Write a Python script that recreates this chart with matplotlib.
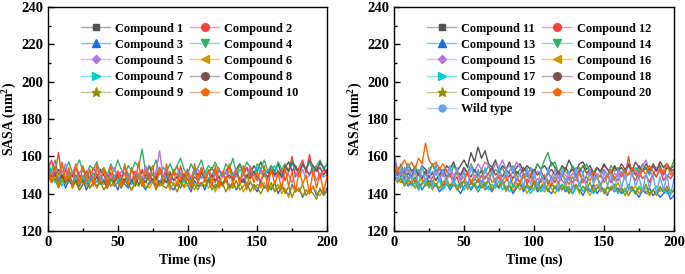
import numpy as np
import matplotlib
matplotlib.use('Agg')
import matplotlib.pyplot as plt
from matplotlib.lines import Line2D
from matplotlib.colors import to_rgb
from matplotlib.ticker import MultipleLocator

plt.rcParams['font.family'] = 'Liberation Serif'
plt.rcParams['font.weight'] = 'bold'
plt.rcParams['mathtext.fontset'] = 'custom'
plt.rcParams['mathtext.bf'] = 'Liberation Serif:bold'

c1 = [155,152,149,153,150,147,152,149,154,150,148,152,147,151,149,153,150,146,151,148,152,149,151,147,153,150,148,152,149,155,150,148,153,149,151,147,152,150,154,149,151,148,153,150,152,148,151,154,150,153,149,152,155,150,153,156,151,154,150,155,152,157,153,151,155,152,156,150,154,157,152,155,151,156,153,150,155,152,154,150,153]
c2 = [153,158,150,162,148,153,147,151,155,149,146,152,148,154,150,147,153,149,151,146,152,148,155,150,147,152,149,153,148,151,146,150,154,149,152,147,151,155,148,150,153,147,151,149,154,148,152,150,146,153,149,151,155,148,152,147,150,154,149,151,147,153,150,148,155,151,149,153,147,152,160,149,154,158,151,161,150,155,148,153,150]
c3 = [150,147,151,145,149,143,147,145,150,144,148,142,146,149,143,147,145,150,144,146,142,148,145,143,147,144,149,145,142,146,148,143,147,145,150,144,142,146,143,148,145,141,147,144,146,142,148,145,143,147,144,149,143,146,142,145,148,143,146,144,141,147,143,145,142,146,140,144,142,139,145,141,143,138,142,140,144,139,142,140,143]
c4 = [156,152,158,150,155,153,157,151,154,158,152,150,155,153,157,151,154,150,156,152,158,153,150,155,152,157,154,164,151,155,153,158,150,154,152,156,151,155,159,153,150,156,152,154,158,151,155,153,157,152,150,156,153,159,151,155,152,157,154,150,156,153,158,152,155,151,157,153,156,152,158,154,151,156,153,157,152,155,158,153,156]
c5 = [154,150,153,148,151,156,149,152,147,151,154,149,152,148,153,150,147,151,149,154,148,152,150,146,153,149,151,148,155,150,147,152,163,149,153,148,151,150,154,147,152,149,151,153,148,150,152,147,151,154,149,152,148,150,153,147,151,149,155,150,148,152,150,147,153,149,151,148,152,150,146,151,149,153,148,150,152,147,151,149,150]
c6 = [151,147,149,144,148,146,150,143,147,145,149,144,146,148,143,147,145,149,144,146,148,143,147,145,142,146,149,144,147,143,146,148,144,145,147,142,146,144,148,143,145,147,142,146,144,148,143,145,141,146,144,147,142,145,143,146,141,144,147,142,145,143,146,141,144,142,145,140,143,138,144,141,143,139,142,140,144,141,139,143,141]
c7 = [147,150,146,149,144,148,151,146,149,147,150,145,148,151,146,149,147,143,148,150,146,149,147,151,145,148,150,146,149,147,151,148,146,150,148,152,147,149,151,146,150,148,152,147,149,151,148,150,153,149,151,148,152,150,149,153,151,148,152,150,154,151,149,153,151,155,152,150,154,152,156,153,151,155,153,157,154,152,156,154,155]
c8 = [152,149,151,147,150,146,148,144,147,142,145,148,143,146,149,145,147,143,148,146,150,145,148,144,147,149,145,148,146,150,147,149,145,148,146,151,147,149,146,150,148,145,149,147,151,148,146,150,147,149,145,148,150,147,151,148,146,150,148,152,149,147,151,149,153,150,152,149,155,152,157,154,151,156,153,158,155,152,157,154,151]
c9 = [150,146,148,143,147,145,149,144,146,142,145,148,143,146,144,147,142,145,148,144,146,143,147,145,142,146,144,148,143,145,147,142,146,144,143,147,145,141,146,144,148,143,145,142,146,144,147,142,145,143,146,141,145,143,147,142,144,146,141,145,143,140,144,142,146,141,143,145,140,144,138,143,141,145,139,142,140,137,143,139,141]
c10 = [156,146,155,144,157,147,154,143,156,145,155,147,153,144,156,146,154,143,155,147,152,144,156,145,154,146,157,144,153,147,155,143,154,146,156,145,153,144,155,147,152,143,156,145,154,146,153,144,155,143,152,146,156,144,153,145,155,142,154,146,152,144,155,143,153,145,151,142,154,144,152,141,153,145,150,140,152,143,151,141,149]

c11 = [157,153,155,151,156,152,154,150,155,153,151,156,152,154,150,155,153,157,152,155,158,154,162,157,165,159,163,156,154,158,152,155,153,157,151,154,156,152,155,153,151,156,153,155,152,157,154,151,155,153,158,154,152,156,157,153,155,151,154,152,156,153,150,155,152,154,151,156,153,150,155,152,154,151,156,153,155,150,154,152,153]
c12 = [158,152,149,153,147,150,146,151,148,152,145,149,147,151,144,148,150,146,149,143,147,151,145,148,146,150,144,148,151,146,149,145,147,150,144,148,146,151,145,149,147,143,148,150,145,149,146,151,147,145,149,146,150,144,148,146,151,147,149,145,148,150,146,149,147,151,148,160,150,147,152,148,150,146,151,149,153,147,150,148,151]
c13 = [151,148,146,149,144,147,143,146,142,145,147,143,145,141,144,146,142,145,143,140,144,146,142,145,143,147,142,144,141,145,143,146,142,144,140,143,145,141,144,142,146,141,143,145,142,140,144,142,145,141,143,140,144,142,139,143,141,145,140,143,142,139,144,141,143,140,142,139,143,141,138,142,140,143,139,141,138,140,142,137,139]
c14 = [154,151,156,150,153,149,155,151,154,150,152,156,150,154,151,153,149,155,152,150,154,151,156,152,149,153,151,155,150,153,151,154,149,152,155,150,153,151,149,154,152,156,153,158,162,155,157,151,154,152,150,155,152,154,151,156,152,149,154,151,153,150,155,152,154,150,153,155,151,154,152,156,153,150,155,152,157,154,156,153,158]
c15 = [162,153,150,154,148,152,150,153,149,151,148,152,150,153,149,151,154,150,152,148,153,151,154,152,156,153,157,155,152,156,154,158,153,155,152,157,154,151,150,153,148,152,150,147,151,149,153,148,152,150,147,151,149,153,146,150,152,148,151,149,153,150,147,151,149,152,148,151,150,153,149,155,158,152,150,154,151,153,149,152,150]
c16 = [152,148,146,149,145,147,143,146,148,144,146,142,145,147,143,146,144,148,143,145,147,142,146,144,141,145,143,147,142,145,144,146,141,144,143,146,142,145,140,144,142,146,143,141,145,143,140,144,142,146,141,143,145,140,144,142,139,143,145,141,143,140,144,142,146,141,143,139,142,144,140,143,141,139,142,140,144,141,143,140,142]
c17 = [150,147,149,145,148,144,146,142,145,147,143,146,144,148,142,145,143,147,144,146,142,145,143,146,141,144,146,142,145,143,147,142,144,141,145,143,146,142,144,140,143,145,141,144,142,146,143,141,145,142,144,140,143,145,141,144,142,140,143,145,141,143,142,144,140,143,141,145,142,140,144,142,143,140,142,144,141,143,140,142,141]
c18 = [153,150,152,148,151,149,153,150,148,152,149,151,147,150,153,149,151,148,152,150,154,151,149,153,150,152,148,151,154,150,152,149,153,151,148,152,150,154,151,149,153,150,152,148,151,153,150,152,149,154,151,153,150,152,155,151,153,150,154,152,155,153,151,154,152,156,153,155,152,157,154,152,156,153,155,152,157,154,156,153,155]
c19 = [149,146,148,144,147,145,149,143,146,148,144,147,145,143,146,148,144,146,142,145,147,143,146,144,148,143,145,147,142,146,144,147,143,145,141,144,146,142,145,143,147,142,144,146,141,145,143,146,142,144,140,143,145,141,144,142,146,141,143,145,140,144,142,145,141,143,139,142,144,140,143,141,145,140,142,139,143,141,144,140,142]
c20 = [156,152,155,158,154,157,153,159,156,167,158,155,157,153,156,152,150,148,151,147,149,152,146,150,148,145,149,151,146,148,150,147,149,145,148,150,146,149,147,151,145,148,146,150,147,144,149,146,150,148,145,149,147,151,146,149,147,152,148,150,146,149,153,147,151,149,152,150,154,151,148,153,150,155,152,149,154,151,156,150,152]
wild = [155,146,154,145,156,147,153,144,155,146,154,143,156,147,153,145,155,144,154,146,152,143,155,147,153,144,154,146,152,143,155,145,153,144,154,146,151,143,154,145,152,144,153,142,154,146,151,143,153,145,152,142,154,144,151,143,153,145,150,142,152,144,151,141,153,143,150,142,152,144,149,141,151,143,150,140,149,142,150,139,148]

left_labels = ['Compound %d' % i for i in range(1, 11)]
right_labels = ['Compound %d' % i for i in range(11, 21)] + ['Wild type']
left_data = [c1, c2, c3, c4, c5, c6, c7, c8, c9, c10]
right_data = [c11, c12, c13, c14, c15, c16, c17, c18, c19, c20, wild]

colors = ['#515151', '#F14040', '#1A6FDF', '#37AD6B', '#B177DE', '#CC9900',
          '#00CBCC', '#7D4E4E', '#8E8E00', '#FB6501', '#6CA2EA']
markers = ['s', 'o', '^', 'v', 'D', '<', '>', 'o', '*', 'p', 'o']
msizes = [5, 5.5, 5.5, 5.5, 4.5, 5.5, 5.5, 5.5, 6.5, 6, 5]


def lighten(c, f=0.5):
    r = np.array(to_rgb(c))
    return tuple(r + (1 - r) * f)


fig = plt.figure(figsize=(6.85, 2.74), dpi=100)
ax1 = fig.add_axes([48 / 685, 1 - 231 / 274, 279 / 685, 224 / 274])
ax2 = fig.add_axes([394 / 685, 1 - 231 / 274, 280 / 685, 224 / 274])

for ax, data, labels in [(ax1, left_data, left_labels), (ax2, right_data, right_labels)]:
    handles = []
    for k, vals in enumerate(data):
        t = np.linspace(0, 200, len(vals))
        ax.plot(t, vals, color=colors[k], lw=1.0)
        handles.append(Line2D([], [], color=lighten(colors[k]), lw=1,
                              marker=markers[k], markersize=msizes[k],
                              markerfacecolor=colors[k], markeredgecolor=colors[k]))
    # matplotlib fills legend columns first; the figure reads row by row
    n = len(labels)
    order = list(range(0, n, 2)) + list(range(1, n, 2))
    ax.set_xlim(0, 200)
    ax.set_ylim(120, 240)
    ax.xaxis.set_major_locator(MultipleLocator(50))
    ax.xaxis.set_minor_locator(MultipleLocator(25))
    ax.yaxis.set_major_locator(MultipleLocator(20))
    ax.yaxis.set_minor_locator(MultipleLocator(10))
    ax.tick_params(which='both', direction='in', labelsize=10.5, width=1)
    ax.tick_params(which='major', length=4)
    ax.tick_params(which='minor', length=2)
    for s in ax.spines.values():
        s.set_linewidth(1)
    ax.set_xlabel('Time (ns)', fontsize=10, fontweight='bold', labelpad=3)
    ax.set_ylabel('SASA (nm$^\\mathbf{2}$)', fontsize=10, fontweight='bold', labelpad=2)
    ax.legend([handles[i] for i in order], [labels[i] for i in order],
              ncol=2, frameon=False, loc='upper left',
              bbox_to_anchor=(0.118, 0.93), borderaxespad=0, borderpad=0,
              handlelength=2.4, handletextpad=0.4, columnspacing=0.55,
              labelspacing=0.33, prop={'size': 8.8, 'weight': 'bold'})

fig.savefig('out.png', dpi=100)
